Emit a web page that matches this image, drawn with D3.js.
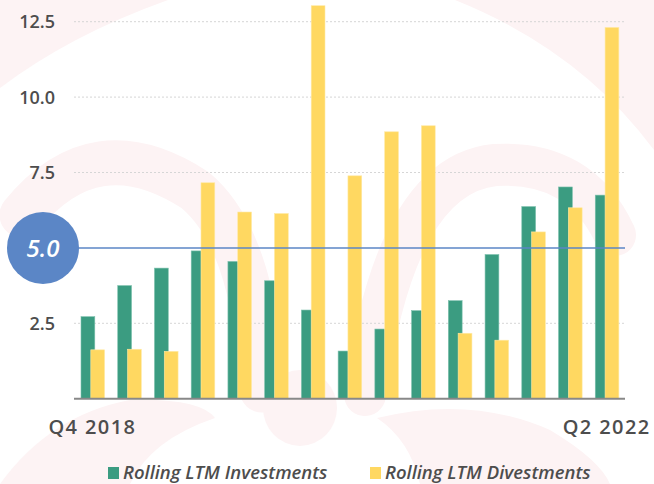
<!DOCTYPE html>
<html>
<head>
    <title>rolling LTM chart</title>
    <script type="text/javascript" src="https://cdn.jsdelivr.net/npm/d3@7"></script>
    <style type="text/css">
        body { margin: 0; background: #fff; }
        svg { display: block; font-family: "Open Sans", Lato, sans-serif; }
    </style>
</head>
<body>
    <svg id="chart" width="654" height="484"></svg>
</body>

<script type="text/javascript">

    let quarters = ["Q4 2018", "Q1 2019", "Q2 2019", "Q3 2019", "Q4 2019", "Q1 2020", "Q2 2020",
                    "Q3 2020", "Q4 2020", "Q1 2021", "Q2 2021", "Q3 2021", "Q4 2021", "Q1 2022", "Q2 2022"];
    let investments = [2.72, 3.75, 4.33, 4.90, 4.55, 3.91, 2.94, 1.58, 2.31, 2.92, 3.25, 4.78, 6.37, 7.02, 6.75];
    let divestments = [1.62, 1.64, 1.57, 7.16, 6.19, 6.14, 13.03, 7.39, 8.85, 9.05, 2.17, 1.94, 5.53, 6.33, 12.31];
    let yTicks = [2.5, 7.5, 10.0, 12.5];
    let refValue = 5.0;
    let shownLabels = ["Q4 2018", "Q2 2022"];
    let seriesNames = ["Rolling LTM Investments", "Rolling LTM Divestments"];

    let green = "#3b9c81", yellow = "#ffd861", blue = "#5b86c6", grey = "#4d4d4d";
    let pink = "#fdf3f4";

    let svg = d3.select("#chart");

    // faint background swooshes
    let bg = svg.append("g");
    bg.append("path").attr("d", "M0,0 L168,0 Q70,35 0,88 Z").attr("fill", pink);
    bg.append("path").attr("d", "M455,0 L654,0 L654,150 Q580,50 455,0 Z").attr("fill", pink);
    bg.append("path").attr("d", "M0,484 Q50,415 130,400 Q200,398 215,418 Q150,440 130,484 Z").attr("fill", pink);
    bg.append("path").attr("d", "M377,418 Q470,395 550,430 Q600,460 610,484 L420,484 Q410,440 377,418 Z").attr("fill", pink);
    bg.append("ellipse").attr("cx", 300).attr("cy", 408).attr("rx", 37).attr("ry", 38).attr("fill", pink);
    let arcs = bg.append("g").attr("fill", "none").attr("stroke", pink).attr("stroke-linecap", "round");
    arcs.append("path").attr("d", "M22,215 Q95,125 195,190 Q255,240 262,390").attr("stroke-width", 45);
    arcs.append("path").attr("d", "M365,395 Q395,175 495,165 Q580,160 615,235").attr("stroke-width", 42);

    let x0 = d3.scaleBand().domain(quarters).range([74, 625]);
    let y = d3.scaleLinear().domain([0, 12.5]).range([398.7, 21.7]);

    // gridlines
    svg.append("g").selectAll("line").data(yTicks).join("line")
        .attr("x1", 74).attr("x2", 625)
        .attr("y1", d => y(d)).attr("y2", d => y(d))
        .attr("stroke", "#d6d6d6").attr("stroke-width", 1).attr("stroke-dasharray", "2,2");

    svg.append("g").selectAll("text").data(yTicks).join("text")
        .attr("x", 55).attr("y", d => y(d)).attr("dy", "0.36em")
        .attr("text-anchor", "end").attr("font-size", 18).attr("font-weight", 600).attr("fill", grey)
        .text(d => d.toFixed(1));

    // bars
    let bw = 13.8;
    svg.append("g").selectAll("rect").data(investments).join("rect")
        .attr("x", (d, i) => x0(quarters[i]) + 7)
        .attr("width", bw)
        .attr("y", d => y(d))
        .attr("height", d => y(0) - y(d))
        .attr("fill", green).attr("stroke", "#7cc0ad").attr("stroke-width", 0.6);

    svg.append("g").selectAll("rect").data(divestments).join("rect")
        .attr("x", (d, i) => x0(quarters[i]) + 16.8)
        .attr("width", bw)
        .attr("y", d => y(d))
        .attr("height", d => y(0) - y(d))
        .attr("fill", yellow).attr("stroke", "#ffe9a6").attr("stroke-width", 0.6);

    // reference line and badge
    svg.append("line")
        .attr("x1", 74).attr("x2", 625).attr("y1", y(refValue)).attr("y2", y(refValue))
        .attr("stroke", blue).attr("stroke-width", 1.5);
    svg.append("circle").attr("cx", 43).attr("cy", y(refValue)).attr("r", 36).attr("fill", blue);
    svg.append("text").attr("x", 43).attr("y", y(refValue)).attr("dy", "0.36em")
        .attr("text-anchor", "middle").attr("font-size", 24).attr("font-style", "italic")
        .attr("font-weight", 600).attr("fill", "#fff").text(refValue.toFixed(1));

    // baseline
    svg.append("line").attr("x1", 74).attr("x2", 625).attr("y1", y(0)).attr("y2", y(0))
        .attr("stroke", "#888").attr("stroke-width", 2);

    // x labels
    svg.append("g").selectAll("text").data(shownLabels).join("text")
        .attr("x", d => x0(d) + x0.bandwidth() / 2).attr("y", 434)
        .attr("text-anchor", "middle").attr("font-size", 20).attr("font-weight", 600)
        .attr("letter-spacing", 1.4).attr("fill", grey)
        .text(d => d);

    // legend
    let legendX = [108, 370];
    let lg = svg.append("g").selectAll("g").data(seriesNames).join("g")
        .attr("transform", (d, i) => `translate(${legendX[i]},467)`);
    lg.append("rect").attr("width", 11).attr("height", 12).attr("fill", (d, i) => i ? yellow : green);
    lg.append("text").attr("x", 15).attr("y", 12)
        .attr("font-size", 18.5).attr("font-style", "italic").attr("font-weight", 600).attr("fill", grey)
        .text(d => d);

</script>

</html>
